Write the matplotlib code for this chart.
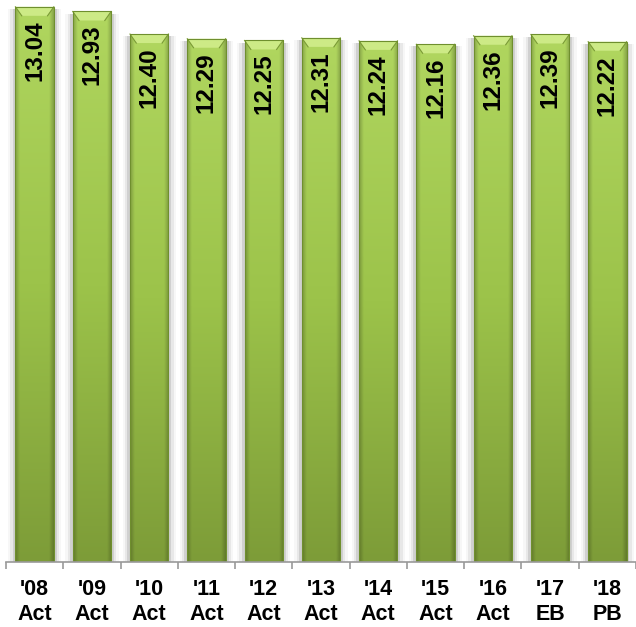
import matplotlib
matplotlib.use("Agg")
import matplotlib.pyplot as plt
import numpy as np
from matplotlib.patches import Polygon
from matplotlib.colors import to_rgb

categories = ["'08\nAct", "'09\nAct", "'10\nAct", "'11\nAct", "'12\nAct", "'13\nAct",
              "'14\nAct", "'15\nAct", "'16\nAct", "'17\nEB", "'18\nPB"]
values = [13.04, 12.93, 12.40, 12.29, 12.25, 12.31, 12.24, 12.16, 12.36, 12.39, 12.22]

plt.rcParams['font.family'] = ['Liberation Sans', 'DejaVu Sans']

fig = plt.figure(figsize=(6.36, 6.27), dpi=100)
ax = fig.add_axes([6/636, 1 - 562/627, 1 - 6/636, 562/627])
ymax = 13.20
ax.set_xlim(-0.5, len(values) - 0.5)
ax.set_ylim(0, ymax)

x = np.arange(len(values))
width = 0.67
bars = ax.bar(x, values, width=width, color='#9cc24a', edgecolor='none', zorder=3)

# build 2D shaded image (rows: bottom->top, cols: left->right)
ny, nx = 300, 60
t = np.linspace(0, 1, ny)[:, None]
bottom_c = np.array(to_rgb('#7d9c38'))
mid_c = np.array(to_rgb('#9cc34a'))
top_c = np.array(to_rgb('#b0d65f'))
vert = np.where(t < 0.5, bottom_c + (mid_c - bottom_c) * (t / 0.5),
                mid_c + (top_c - mid_c) * ((t - 0.5) / 0.5))
vert = vert.reshape(ny, 1, 3)
u = np.linspace(0, 1, nx)
edge = np.minimum(u, 1 - u)
hfac = 0.78 + 0.22 * np.clip(edge / 0.12, 0, 1)
img = np.clip(vert * hfac.reshape(1, nx, 1), 0, 1)

px_per_unit = 562 / ymax
bevel = 9 / px_per_unit
for b, v in zip(bars, values):
    x0 = b.get_x(); x1 = x0 + b.get_width()
    # soft side shadow
    for k, a in zip([0.05, 0.09, 0.13], [0.10, 0.06, 0.03]):
        ax.add_patch(plt.Rectangle((x0 - k, 0), (x1 - x0) + 2 * k, v - 0.05,
                                   color='#000000', alpha=a, lw=0, zorder=1))
    im = ax.imshow(img, extent=[x0, x1, 0, v], origin='lower',
                   aspect='auto', zorder=3.5, interpolation='bilinear')
    im.set_clip_path(b)
    dx = 0.11
    ax.add_patch(Polygon([[x0, v], [x1, v], [x1 - dx, v - bevel], [x0 + dx, v - bevel]],
                         closed=True, facecolor='#cdea86', edgecolor='none', zorder=4))
    ax.plot([x0, x0 + dx], [v, v - bevel], color='#7a9a36', lw=0.8, zorder=4.5)
    ax.plot([x1, x1 - dx], [v, v - bevel], color='#7a9a36', lw=0.8, zorder=4.5)
    ax.add_patch(plt.Rectangle((x0, 0), x1 - x0, v, fill=False, edgecolor='#6f8f2e', lw=0.8, zorder=5))
    ax.annotate(f"{v:.2f}", xy=(b.get_x() + b.get_width() / 2, v), xytext=(0, -9.5),
                textcoords='offset points', ha='center', va='top', rotation=90,
                fontsize=17.5, fontweight='bold', color='black', zorder=6)

for s in ['left', 'right', 'top']:
    ax.spines[s].set_visible(False)
ax.spines['bottom'].set_color('#999999')
ax.spines['bottom'].set_linewidth(1.2)
ax.spines['bottom'].set_zorder(7)
ax.set_yticks([])
ax.set_xticks(x)
ax.set_xticklabels(categories, fontsize=15.5, fontweight='bold', linespacing=1.3)
ax.tick_params(axis='x', which='major', length=0, pad=12)
ax.set_xticks(np.arange(-0.5, len(values), 1.0), minor=True)
ax.tick_params(axis='x', which='minor', length=5, color='#999999', width=1.2)

fig.savefig('out.png', dpi=100)
